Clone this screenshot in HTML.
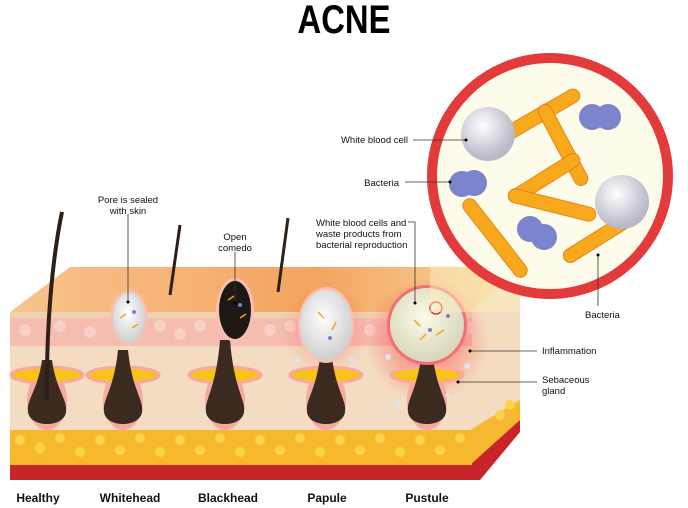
<!DOCTYPE html>
<html><head><meta charset="utf-8"><style>
html,body{margin:0;padding:0;background:#fff;}
svg{display:block;font-family:"Liberation Sans",Arial,sans-serif;}
</style></head><body>
<svg width="688" height="508" viewBox="0 0 688 508" xmlns="http://www.w3.org/2000/svg">
<defs>
<radialGradient id="glow" cx="0.5" cy="0.5" r="0.5"><stop offset="0" stop-color="#ff2020" stop-opacity="0.6"/><stop offset="1" stop-color="#ff2020" stop-opacity="0"/></radialGradient>
<linearGradient id="top" x1="0" y1="0" x2="1" y2="0"><stop offset="0" stop-color="#f9c48e"/><stop offset="0.6" stop-color="#f4a460"/><stop offset="1" stop-color="#f8d9a0"/></linearGradient>
<radialGradient id="wbc" cx="0.4" cy="0.35" r="0.6"><stop offset="0" stop-color="#fff"/><stop offset="1" stop-color="#b8b8c8"/></radialGradient>
<radialGradient id="pus" cx="0.45" cy="0.4" r="0.6"><stop offset="0" stop-color="#fbfbe8"/><stop offset="1" stop-color="#d8d6b8"/></radialGradient>
<radialGradient id="pap" cx="0.45" cy="0.4" r="0.6"><stop offset="0" stop-color="#fff"/><stop offset="1" stop-color="#cfcfcf"/></radialGradient>
</defs>
<text x="0" y="33" font-size="40" font-weight="bold" text-anchor="middle" transform="translate(344 0) scale(0.82 1)">ACNE</text>

<!-- skin block -->
<polygon points="10,312 70,267 520,267 470,312" fill="url(#top)"/>
<polygon points="470,312 520,267 520,430 470,480" fill="#f3dcc0"/>
<polygon points="470,430 520,400 520,430 480,480 470,480" fill="#f5b830"/>
<polygon points="470,465 520,420 520,432 480,480 470,480" fill="#c8242a"/>
<rect x="10" y="312" width="462" height="8" fill="#f1d2b0"/>
<rect x="10" y="318" width="462" height="30" fill="#f5bcb0"/>
<g fill="#f9d0c6">
<circle cx="25" cy="330" r="6"/><circle cx="60" cy="326" r="6"/><circle cx="90" cy="332" r="6"/><circle cx="160" cy="326" r="6"/><circle cx="180" cy="334" r="6"/><circle cx="200" cy="326" r="6"/><circle cx="270" cy="330" r="6"/><circle cx="290" cy="326" r="6"/><circle cx="370" cy="330" r="6"/><circle cx="470" cy="328" r="6"/>
</g>
<rect x="10" y="346" width="462" height="86" fill="#f3dcc2"/>
<rect x="10" y="430" width="462" height="36" fill="#f6b92c"/>
<g fill="#fcd24a">
<circle cx="20" cy="440" r="5"/><circle cx="40" cy="448" r="5"/><circle cx="60" cy="438" r="5"/><circle cx="80" cy="452" r="5"/><circle cx="100" cy="440" r="5"/><circle cx="120" cy="450" r="5"/><circle cx="140" cy="438" r="5"/><circle cx="160" cy="452" r="5"/><circle cx="180" cy="440" r="5"/><circle cx="200" cy="450" r="5"/><circle cx="220" cy="438" r="5"/><circle cx="240" cy="452" r="5"/><circle cx="260" cy="440" r="5"/><circle cx="280" cy="450" r="5"/><circle cx="300" cy="438" r="5"/><circle cx="320" cy="452" r="5"/><circle cx="340" cy="440" r="5"/><circle cx="360" cy="450" r="5"/><circle cx="380" cy="438" r="5"/><circle cx="400" cy="452" r="5"/><circle cx="420" cy="440" r="5"/><circle cx="440" cy="450" r="5"/><circle cx="460" cy="438" r="5"/><circle cx="500" cy="415" r="5"/><circle cx="510" cy="405" r="5"/>
</g>
<rect x="10" y="465" width="462" height="15" fill="#c8242a"/>

<!-- glows -->
<circle cx="427" cy="340" r="62" fill="url(#glow)"/>
<circle cx="326" cy="330" r="45" fill="url(#glow)" opacity="0.5"/>

<g fill="#f7a9a0">
<ellipse cx="47" cy="400" rx="20" ry="30"/><ellipse cx="123" cy="400" rx="20" ry="30"/><ellipse cx="225" cy="400" rx="20" ry="30"/><ellipse cx="326" cy="400" rx="20" ry="30"/><ellipse cx="427" cy="400" rx="20" ry="30"/>
</g>
<g fill="#f7c21a" stroke="#f7a9a0" stroke-width="3">
<ellipse cx="47" cy="375" rx="36" ry="8"/><ellipse cx="123" cy="375" rx="36" ry="8"/><ellipse cx="225" cy="375" rx="36" ry="8"/><ellipse cx="326" cy="375" rx="36" ry="8"/><ellipse cx="427" cy="375" rx="36" ry="8"/>
</g>
<g fill="#3a2a20">
<path d="M42,360 L52,360 C56,390 68,400 66,412 C64,428 30,428 28,412 C26,400 38,390 42,360Z"/>
<path d="M118,350 L128,350 C132,390 144,400 142,412 C140,428 106,428 104,412 C102,400 114,390 118,350Z"/>
<path d="M220,340 L230,340 C234,390 246,400 244,412 C242,428 208,428 206,412 C204,400 216,390 220,340Z"/>
<path d="M321,350 L331,350 C335,390 347,400 345,412 C343,428 309,428 307,412 C305,400 317,390 321,350Z"/>
<path d="M422,350 L432,350 C436,390 448,400 446,412 C444,428 410,428 408,412 C406,400 418,390 422,350Z"/>
</g>
<!-- hairs -->
<path d="M47,400 C46,330 52,260 62,212" stroke="#2e2018" stroke-width="4" fill="none"/>
<path d="M170,295 L180,225" stroke="#2e2018" stroke-width="3"/>
<path d="M278,292 L288,218" stroke="#2e2018" stroke-width="3"/>

<!-- lesions -->
<ellipse cx="129" cy="318" rx="19" ry="28" fill="#f7c0b4"/>
<ellipse cx="129" cy="318" rx="16" ry="25" fill="url(#pap)"/>
<ellipse cx="235" cy="310" rx="19" ry="32" fill="#f7c0b4"/>
<ellipse cx="235" cy="310" rx="16" ry="29" fill="#1e1812"/>
<ellipse cx="326" cy="325" rx="28" ry="38" fill="#f7c0b4"/>
<ellipse cx="326" cy="325" rx="26" ry="35" fill="url(#pap)"/>
<circle cx="427" cy="325" r="40" fill="#f0707a"/>
<circle cx="427" cy="325" r="37" fill="url(#pus)"/>
<circle cx="436" cy="308" r="6" fill="none" stroke="#e03030" stroke-width="1.5"/>
<g stroke="#f5a020" stroke-width="1.5">
<line x1="120" y1="318" x2="126" y2="314"/><line x1="132" y1="328" x2="138" y2="324"/><line x1="228" y1="300" x2="234" y2="296"/><line x1="240" y1="318" x2="246" y2="314"/><line x1="318" y1="312" x2="324" y2="318"/><line x1="332" y1="330" x2="336" y2="322"/><line x1="414" y1="320" x2="420" y2="326"/><line x1="436" y1="335" x2="444" y2="330"/><line x1="420" y1="340" x2="426" y2="334"/>
</g>
<g fill="#7a80c8">
<circle cx="134" cy="312" r="2"/><circle cx="240" cy="305" r="2"/><circle cx="330" cy="338" r="2"/><circle cx="430" cy="330" r="2"/><circle cx="448" cy="316" r="2"/>
</g>
<g fill="#dde4f4"><circle cx="298" cy="360" r="2.5"/><circle cx="352" cy="360" r="2.5"/><circle cx="388" cy="357" r="3"/><circle cx="467" cy="366" r="3"/><circle cx="398" cy="405" r="3"/><circle cx="448" cy="395" r="2.5"/></g>

<!-- magnifier -->
<polygon points="430,265 520,267 520,312 430,312" fill="#fbf0c0" opacity="0.5"/>
<circle cx="550" cy="176" r="118" fill="#fdfbea" stroke="#e33a3c" stroke-width="10"/>
<g fill="#f7a81c" stroke="#e07a10" stroke-width="0.8">
<rect x="-45" y="-7" width="90" height="14" rx="7" transform="translate(540,115) rotate(-30)"/>
<rect x="-45" y="-7" width="90" height="14" rx="7" transform="translate(563,145) rotate(62)"/>
<rect x="-40" y="-7" width="80" height="14" rx="7" transform="translate(545,178) rotate(-32)"/>
<rect x="-45" y="-7" width="90" height="14" rx="7" transform="translate(552,205) rotate(14)"/>
<rect x="-48" y="-7" width="96" height="14" rx="7" transform="translate(495,238) rotate(52)"/>
<rect x="-42" y="-7" width="84" height="14" rx="7" transform="translate(600,237) rotate(-32)"/>
</g>
<g fill="#7b84cc">
<circle cx="592" cy="117" r="13"/><circle cx="608" cy="117" r="13"/>
<circle cx="462" cy="184" r="13"/><circle cx="474" cy="183" r="13"/>
<circle cx="530" cy="229" r="13"/><circle cx="544" cy="237" r="13"/>
</g>
<circle cx="488" cy="134" r="27" fill="url(#wbc)"/>
<circle cx="622" cy="202" r="27" fill="url(#wbc)"/>

<!-- leader lines -->
<g stroke="#333" stroke-width="0.8" fill="none">
<line x1="128" y1="214" x2="128" y2="302"/>
<line x1="235" y1="252" x2="235" y2="303"/>
<polyline points="408,222 415,222 415,303"/>
<line x1="413" y1="140" x2="466" y2="140"/>
<line x1="405" y1="182" x2="450" y2="182"/>
<line x1="598" y1="255" x2="598" y2="306"/>
<line x1="470" y1="351" x2="537" y2="351"/>
<line x1="458" y1="382" x2="537" y2="382"/>
</g>
<g fill="#000"><circle cx="128" cy="302" r="1.5"/><circle cx="235" cy="303" r="1.5"/><circle cx="415" cy="303" r="1.5"/><circle cx="466" cy="140" r="1.5"/><circle cx="450" cy="182" r="1.5"/><circle cx="598" cy="255" r="1.5"/><circle cx="470" cy="351" r="1.5"/><circle cx="458" cy="382" r="1.5"/></g>

<g font-size="9.5" fill="#111">
<text x="128" y="203" text-anchor="middle">Pore is sealed</text>
<text x="128" y="214" text-anchor="middle">with skin</text>
<text x="235" y="240" text-anchor="middle">Open</text>
<text x="235" y="251" text-anchor="middle">comedo</text>
<text x="316" y="226">White blood cells and</text>
<text x="316" y="237">waste products from</text>
<text x="316" y="248">bacterial reproduction</text>
<text x="408" y="143" text-anchor="end">White blood cell</text>
<text x="399" y="186" text-anchor="end">Bacteria</text>
<text x="585" y="318">Bacteria</text>
<text x="542" y="354">Inflammation</text>
<text x="542" y="383">Sebaceous</text>
<text x="542" y="394">gland</text>
</g>
<g font-size="12" font-weight="bold" text-anchor="middle" fill="#111">
<text x="38" y="502">Healthy</text>
<text x="130" y="502">Whitehead</text>
<text x="228" y="502">Blackhead</text>
<text x="327" y="502">Papule</text>
<text x="427" y="502">Pustule</text>
</g>
</svg>
</body></html>
